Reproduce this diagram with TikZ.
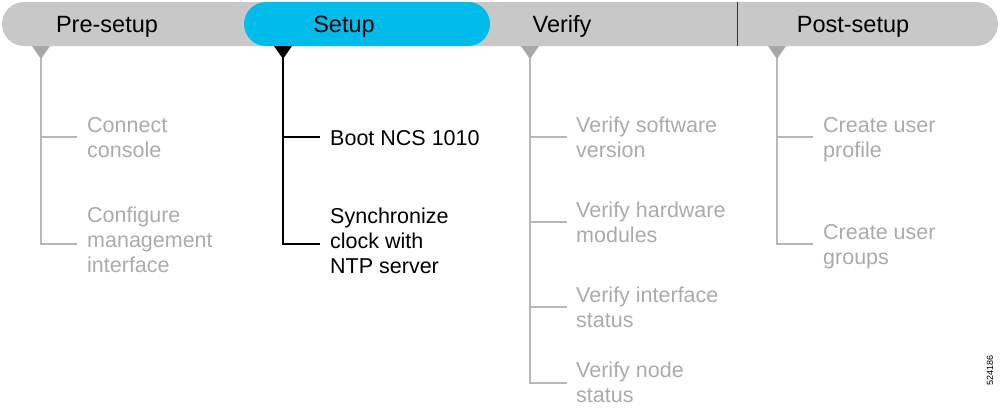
\documentclass[tikz,border=0pt]{standalone}
\usepackage{fontspec}
\setmainfont{Liberation Sans}
\definecolor{bargray}{HTML}{C8C8C8}
\definecolor{cblue}{HTML}{00BCEB}
\definecolor{txtgray}{HTML}{ABABAB}
\definecolor{lngray}{HTML}{B8B8B8}
\definecolor{trigray}{HTML}{A8A8A8}
\begin{document}
\begin{tikzpicture}[x=1pt,y=-1pt,
  phase/.style={font=\fontsize{23.5}{27}\selectfont, text=black, inner sep=0, anchor=base},
  item/.style={font=\fontsize{21.5}{25}\selectfont, align=left, anchor=base west, inner sep=0, text=txtgray},
  activeitem/.style={item, text=black},
  trunk/.style={draw=lngray, line width=1.2pt},
  activetrunk/.style={draw=black, line width=1.2pt},
  tri/.style={fill=trigray},
  activetri/.style={fill=black}]
\useasboundingbox (0,0) rectangle (1000,410);
% bar
\fill[bargray, rounded corners=22pt] (2,2) rectangle (998,46);
\fill[cblue, rounded corners=22pt] (244,2) rectangle (490,46);
\draw[black!80, line width=1pt] (737,2) -- (737,46);
% phase labels
\node[phase] (pre) at (107,32) {Pre-setup};
\node[phase] (setup) at (344,32) {Setup};
\node[phase] (verify) at (562,32) {Verify};
\node[phase] (post) at (853,32) {Post-setup};
% triangles
\fill[tri] (32,46) -- (50,46) -- (41,59) -- cycle;
\fill[activetri] (274,46) -- (292,46) -- (283,59) -- cycle;
\fill[tri] (521,46) -- (539,46) -- (530,59) -- cycle;
\fill[tri] (768,46) -- (786,46) -- (777,59) -- cycle;
\coordinate (tpre) at (41,58);
\coordinate (tsetup) at (283,58);
\coordinate (tverify) at (530,58);
\coordinate (tpost) at (777,58);
% items (anchor = baseline of last line)
\node[item] (p1) at (87,157) {Connect\\console};
\node[item] (p2) at (87,272) {Configure\\management\\interface};
\node[activeitem] (s1) at (330,145) {Boot NCS 1010};
\node[activeitem] (s2) at (330,273) {Synchronize\\clock with\\NTP server};
\node[item] (v1) at (576,157) {Verify software\\version};
\node[item] (v2) at (576,242) {Verify hardware\\modules};
\node[item] (v3) at (576,327) {Verify interface\\status};
\node[item] (v4) at (576,402) {Verify node\\status};
\node[item] (q1) at (823,157) {Create user\\profile};
\node[item] (q2) at (823,264) {Create user\\groups};
% branch coordinates
\coordinate (bp1) at (41,137); \coordinate (bp2) at (41,244);
\coordinate (bs1) at (283,137); \coordinate (bs2) at (283,244);
\coordinate (bv1) at (530,137); \coordinate (bv2) at (530,222);
\coordinate (bv3) at (530,307); \coordinate (bv4) at (530,383);
\coordinate (bq1) at (777,137); \coordinate (bq2) at (777,244);
% connectors
\draw[trunk] (tpre) -- (bp2) -- ([xshift=-10pt]p2.west |- bp2);
\draw[trunk] (bp1) -- ([xshift=-10pt]p1.west |- bp1);
\draw[activetrunk] (tsetup) -- (bs2) -- ([xshift=-10pt]s2.west |- bs2);
\draw[activetrunk] (bs1) -- ([xshift=-10pt]s1.west |- bs1);
\draw[trunk] (tverify) -- (bv4) -- ([xshift=-9pt]v4.west |- bv4);
\draw[trunk] (bv1) -- ([xshift=-9pt]v1.west |- bv1);
\draw[trunk] (bv2) -- ([xshift=-9pt]v2.west |- bv2);
\draw[trunk] (bv3) -- ([xshift=-9pt]v3.west |- bv3);
\draw[trunk] (tpost) -- (bq2) -- ([xshift=-10pt]q2.west |- bq2);
\draw[trunk] (bq1) -- ([xshift=-10pt]q1.west |- bq1);
% figure number
\node[font=\fontsize{9}{10}\selectfont, rotate=90, inner sep=0] (fig) at (990,370) {524186};
\end{tikzpicture}
\end{document}
